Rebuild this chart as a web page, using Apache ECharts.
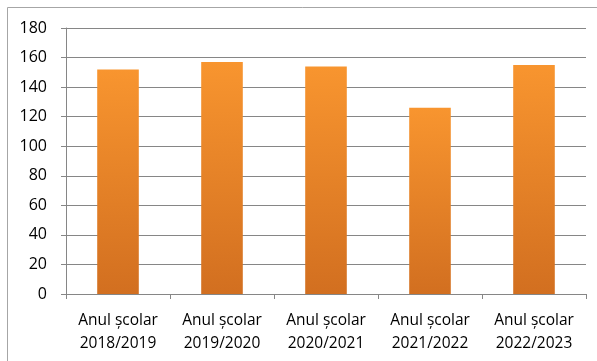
<!DOCTYPE html>
<html><head><meta charset="utf-8">
<script src="https://cdn.jsdelivr.net/npm/echarts@6/dist/echarts.min.js"></script>
<style>html,body{margin:0;padding:0;background:#fff}#c{width:597px;height:361px}</style>
</head><body><div id="c"></div>
<script>
const categories = ["Anul școlar\n2018/2019","Anul școlar\n2019/2020","Anul școlar\n2020/2021","Anul școlar\n2021/2022","Anul școlar\n2022/2023"];
const values = [152, 157, 154, 126, 155];
const yTicks = {min: 0, max: 180, interval: 20};

const chart = echarts.init(document.getElementById('c'), null, {renderer: 'canvas'});
chart.setOption({
  animation: false,
  backgroundColor: '#fff',
  graphic: [{type: 'rect', shape: {x: 7.5, y: 7.5, width: 700, height: 400}, style: {fill: 'none', stroke: '#a6a6a6', lineWidth: 1}, silent: true}],
  grid: {left: 66, right: 11, top: 28, bottom: 67, containLabel: false},
  xAxis: {
    type: 'category', data: categories,
    axisLine: {lineStyle: {color: '#868686', width: 1}},
    axisTick: {show: true, length: 5, lineStyle: {color: '#868686'}},
    axisLabel: {color: '#000', fontFamily: 'Open Sans', fontSize: 15.5, lineHeight: 23, margin: 15}
  },
  yAxis: {
    type: 'value', min: yTicks.min, max: yTicks.max, interval: yTicks.interval,
    axisLine: {show: true, lineStyle: {color: '#868686', width: 1}},
    axisTick: {show: true, length: 5, lineStyle: {color: '#868686'}},
    splitLine: {lineStyle: {color: '#868686', width: 1}},
    axisLabel: {color: '#000', fontFamily: 'Open Sans', fontSize: 16, margin: 19}
  },
  series: [{
    type: 'bar', data: values, barWidth: '40%',
    itemStyle: {
      color: new echarts.graphic.LinearGradient(0, 0, 0, 1, [
        {offset: 0, color: '#f8952f'},
        {offset: 1, color: '#d26f20'}
      ])
    }
  }]
});
</script></body></html>
